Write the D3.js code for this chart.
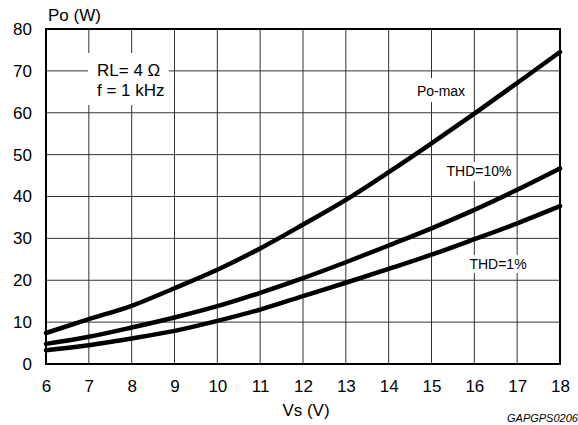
<html>
<head>
    <style>
        body { margin: 0; background: #fff; }
        svg { display: block; font-family: "Liberation Sans", Arial, sans-serif; }
        .grid line { stroke: #333; stroke-width: 1px; }
        .curve { fill: none; stroke: #000; stroke-width: 4.5px; stroke-linecap: round; stroke-linejoin: round; }
    </style>
</head>
<body>
<div id="container"></div>
<script src="https://d3js.org/d3.v7.min.js"></script>
<script>
    let width = 578,
        height = 425,
        margin = { left: 46, right: 18, top: 29, bottom: 61 };

    // supply voltage (V)
    let vs = [6, 7, 8, 9, 10, 11, 12, 13, 14, 15, 16, 17, 18];
    // output power (W)
    let poMax = [7.4, 10.7, 13.9, 18.1, 22.5, 27.6, 33.3, 39.2, 45.8, 52.7, 59.8, 67.1, 74.5];
    let thd10 = [4.8, 6.5, 8.7, 11.1, 13.8, 17.0, 20.5, 24.3, 28.3, 32.4, 36.8, 41.6, 46.7];
    let thd1 = [3.3, 4.5, 6.1, 7.9, 10.3, 13.0, 16.2, 19.4, 22.7, 26.1, 29.8, 33.6, 37.7];

    let xTicks = [6, 7, 8, 9, 10, 11, 12, 13, 14, 15, 16, 17, 18];
    let yTicks = [0, 10, 20, 30, 40, 50, 60, 70, 80];

    let svg = d3.select('#container')
        .append('svg')
        .attr('width', width)
        .attr('height', height);

    let x = d3.scaleLinear().domain([6, 18]).range([margin.left, width - margin.right]),
        y = d3.scaleLinear().domain([0, 80]).range([height - margin.bottom, margin.top]);

    // grid
    let grid = svg.append('g').attr('class', 'grid');
    grid.selectAll('.vx')
        .data(xTicks)
        .enter().append('line')
        .attr('x1', d => x(d)).attr('x2', d => x(d))
        .attr('y1', y(0)).attr('y2', y(80));
    grid.selectAll('.hy')
        .data(yTicks)
        .enter().append('line')
        .attr('x1', x(6)).attr('x2', x(18))
        .attr('y1', d => y(d)).attr('y2', d => y(d));

    // white boxes behind labels (they cut the grid)
    let boxes = [[88, 53, 81, 52], [412, 78, 58, 24], [443, 162, 72, 19], [466, 255, 64, 18]];
    svg.selectAll('.box')
        .data(boxes)
        .enter().append('rect')
        .attr('x', d => d[0]).attr('y', d => d[1])
        .attr('width', d => d[2]).attr('height', d => d[3])
        .attr('fill', '#fff');

    // frame
    svg.append('rect')
        .attr('x', x(6)).attr('y', y(80))
        .attr('width', x(18) - x(6)).attr('height', y(0) - y(80))
        .attr('fill', 'none').attr('stroke', '#000').attr('stroke-width', 2);

    // axes labels
    svg.append('g')
        .attr('transform', 'translate(0,' + y(0) + ')')
        .call(d3.axisBottom(x).tickValues(xTicks).tickSize(0).tickPadding(16).tickFormat(d3.format('d')))
        .call(g => g.select('.domain').remove())
        .selectAll('text').attr('font-size', 17).attr('font-family', 'Liberation Sans, Arial, sans-serif').attr('fill', '#000');

    svg.append('g')
        .attr('transform', 'translate(' + x(6) + ',0)')
        .call(d3.axisLeft(y).tickValues(yTicks).tickSize(0).tickPadding(14).tickFormat(d3.format('d')))
        .call(g => g.select('.domain').remove())
        .selectAll('text').attr('font-size', 17).attr('font-family', 'Liberation Sans, Arial, sans-serif').attr('fill', '#000');

    // curves
    let line = d3.line()
        .x((d, i) => x(vs[i]))
        .y(d => y(d))
        .curve(d3.curveMonotoneX);

    [poMax, thd10, thd1].forEach(function (s) {
        svg.append('path')
            .datum(s)
            .attr('class', 'curve')
            .attr('d', line);
    });

    // texts
    svg.append('text').attr('x', 48).attr('y', 21).attr('font-size', 17).text('Po (W)');
    svg.append('text').attr('x', 306).attr('y', 416).attr('font-size', 17).attr('text-anchor', 'middle').text('Vs (V)');
    svg.append('text').attr('x', 97).attr('y', 76).attr('font-size', 17).text('RL= 4 \u03A9');
    svg.append('text').attr('x', 97).attr('y', 96).attr('font-size', 17).text('f = 1 kHz');
    svg.append('text').attr('x', 441).attr('y', 96).attr('font-size', 14).attr('text-anchor', 'middle').text('Po-max');
    svg.append('text').attr('x', 479).attr('y', 176).attr('font-size', 14).attr('text-anchor', 'middle').text('THD=10%');
    svg.append('text').attr('x', 498).attr('y', 269).attr('font-size', 14).attr('text-anchor', 'middle').text('THD=1%');
    svg.append('text').attr('x', 507).attr('y', 422).attr('font-size', 11).attr('font-style', 'italic').text('GAPGPS02066');
</script>
</body>
</html>
